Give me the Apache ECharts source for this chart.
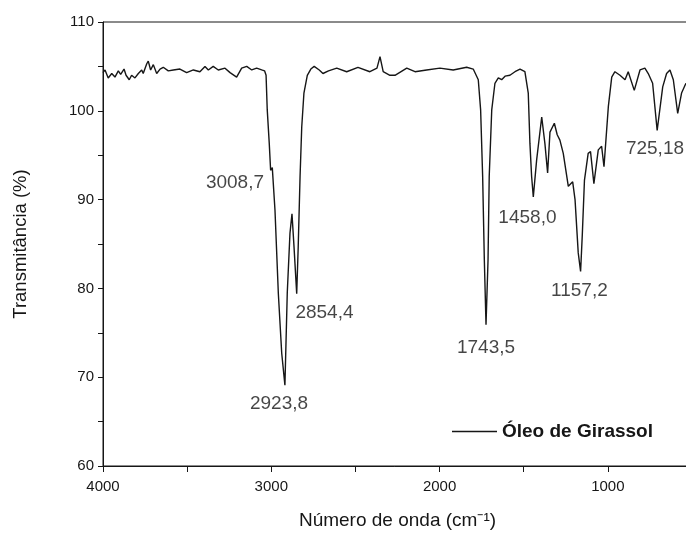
<!DOCTYPE html>
<html>
<head>
<meta charset="utf-8">
<script src="https://cdn.jsdelivr.net/npm/echarts@6/dist/echarts.min.js"></script>
<style>html,body{margin:0;padding:0;background:#fff}#main{width:686px;height:534px}</style>
</head>
<body>
<div id="main"></div>
<script>
var wavenumber = [
	4000, 3988, 3969, 3948, 3929, 3909, 3895, 3875, 3863, 3844, 3830, 3810, 3790, 3770, 3761, 3740, 3731, 3717, 3701, 3681,
	3661, 3642, 3612, 3582, 3543, 3503, 3463, 3424, 3394, 3374, 3345, 3315, 3275, 3245, 3206, 3176, 3146, 3116, 3087, 3057,
	3040, 3031, 3024, 3012, 3004, 2994, 2978, 2958, 2938, 2919, 2905, 2889, 2877, 2865, 2849, 2840, 2829, 2819, 2806, 2786,
	2765, 2745, 2715, 2693, 2660, 2611, 2552, 2485, 2414, 2372, 2354, 2335, 2295, 2265, 2195, 2146, 2077, 1998, 1919, 1839,
	1800, 1770, 1756, 1744, 1734, 1724, 1712, 1705, 1690, 1671, 1651, 1631, 1611, 1582, 1552, 1522, 1493, 1473, 1463, 1453,
	1443, 1423, 1393, 1374, 1358, 1344, 1318, 1301, 1285, 1265, 1235, 1209, 1195, 1176, 1162, 1152, 1139, 1117, 1103, 1083,
	1057, 1037, 1023, 997, 977, 958, 928, 898, 879, 843, 809, 780, 760, 734, 707, 674, 651, 631, 611, 585,
	562, 536
];
var transmittance = [
	104.3, 104.6, 103.7, 104.2, 103.8, 104.5, 104.1, 104.7, 104.0, 103.5, 104.0, 103.7, 104.2, 104.6, 104.2, 105.3, 105.6, 104.6, 105.2, 104.2,
	104.7, 104.9, 104.5, 104.6, 104.7, 104.3, 104.6, 104.4, 105.0, 104.6, 105.0, 104.6, 104.8, 104.3, 103.8, 104.8, 105.0, 104.6, 104.8, 104.6,
	104.5, 104.0, 100.1, 96.3, 93.3, 93.6, 88.8, 79.4, 72.7, 69.1, 79.5, 86.2, 88.4, 84.7, 79.4, 84.7, 92.6, 98.2, 102.0, 104.0,
	104.7, 105.0, 104.6, 104.2, 104.5, 104.8, 104.4, 104.9, 104.4, 104.8, 106.1, 104.4, 104.0, 104.0, 104.8, 104.4, 104.6, 104.8, 104.6, 104.9,
	104.7, 103.5, 100.1, 92.6, 83.2, 75.9, 83.2, 92.6, 100.1, 103.1, 103.7, 103.5, 103.9, 104.0, 104.4, 104.7, 104.4, 102.0, 96.3, 92.6,
	90.3, 94.5, 99.3, 96.3, 93.0, 97.6, 98.6, 97.3, 96.7, 95.2, 91.5, 92.0, 90.0, 84.0, 81.9, 86.0, 92.2, 95.2, 95.4, 91.8,
	95.6, 96.0, 93.7, 100.5, 103.8, 104.4, 104.0, 103.5, 104.4, 102.3, 104.6, 104.8, 104.2, 103.1, 97.8, 102.7, 104.2, 104.6, 103.5, 99.7,
	102.0, 103.1
];

// picos anotados
var peakText = ['3008,7', '2923,8', '2854,4', '1743,5', '1458,0', '1157,2', '725,18'];
var peakTextX = [3216, 2954, 2684, 1724, 1478, 1169, 720];
var peakTextY = [91.9, 67.0, 77.2, 73.3, 88.0, 79.7, 95.7];

var xTicks = [4000, 3000, 2000, 1000];
var yTicks = [60, 70, 80, 90, 100, 110];

var font = 'Liberation Sans, Arial, sans-serif';
var ink = '#161616';

var spectrum = wavenumber.map(function (w, i) { return [w, transmittance[i]]; });
var peaks = peakText.map(function (t, i) { return {name: t, value: [peakTextX[i], peakTextY[i]]}; });

echarts.init(document.getElementById('main')).setOption({
	animation: false,
	grid: {left: 103, top: 22, width: 589, height: 444, outerBoundsMode: 'none', containLabel: false,
		show: true, borderColor: ink, borderWidth: 1},
	legend: {
		data: ['Óleo de Girassol'],
		left: 452, top: 422, padding: 0,
		icon: 'rect', itemWidth: 45, itemHeight: 1.5, itemGap: 6,
		textStyle: {fontFamily: font, fontSize: 19, fontWeight: 'bold', color: ink}
	},
	xAxis: {
		type: 'value', inverse: true, min: 500, max: 4000, interval: 500,
		name: 'Número de onda (cm⁻¹)', nameLocation: 'middle', nameGap: 45,
		nameTextStyle: {fontFamily: font, fontSize: 19, color: ink},
		axisLine: {lineStyle: {color: ink, width: 1}},
		axisTick: {length: 6, lineStyle: {color: ink}},
		axisLabel: {fontFamily: font, fontSize: 15, color: ink, margin: 13,
			formatter: function (v) { return xTicks.indexOf(v) >= 0 ? String(v) : ''; }},
		splitLine: {show: false}
	},
	yAxis: {
		type: 'value', min: 60, max: 110, interval: 5,
		name: 'Transmitância (%)', nameLocation: 'middle', nameGap: 73,
		nameTextStyle: {fontFamily: font, fontSize: 18.5, color: ink},
		axisLine: {show: true, lineStyle: {color: ink, width: 1}},
		axisTick: {show: true, length: 5, lineStyle: {color: ink}},
		axisLabel: {fontFamily: font, fontSize: 15, color: ink, margin: 9,
			formatter: function (v) { return yTicks.indexOf(v) >= 0 ? String(v) : ''; }},
		splitLine: {show: false}
	},
	series: [{
		name: 'Óleo de Girassol',
		type: 'line',
		symbol: 'none',
		lineStyle: {color: ink, width: 1.4},
		itemStyle: {color: ink},
		data: spectrum
	}, {
		name: 'picos',
		type: 'scatter',
		symbolSize: 0,
		silent: true,
		label: {show: true, position: 'inside', formatter: '{b}', fontFamily: font, fontSize: 19, color: ink},
		data: peaks
	}]
});
</script>
</body>
</html>
